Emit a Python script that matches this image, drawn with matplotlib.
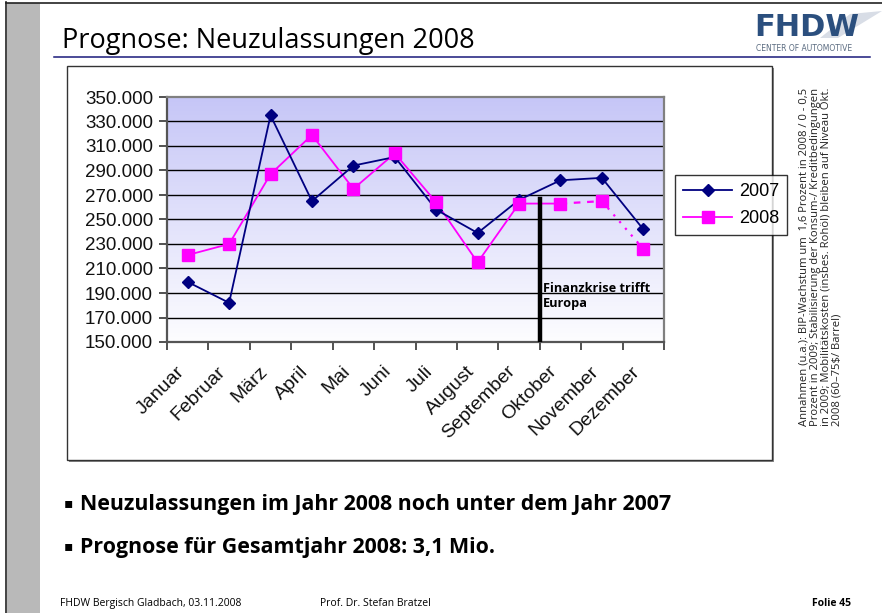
import numpy as np
import matplotlib.pyplot as plt
import matplotlib.transforms as mtransforms
from matplotlib.patches import Rectangle, Polygon
from matplotlib.lines import Line2D
from matplotlib.colors import LinearSegmentedColormap
from matplotlib.ticker import FuncFormatter

# Daten
monate = ['Januar', 'Februar', 'März', 'April', 'Mai', 'Juni', 'Juli',
          'August', 'September', 'Oktober', 'November', 'Dezember']
werte_2007 = [199000, 182000, 335000, 265000, 294000, 301000, 258000,
              239000, 266000, 282000, 284000, 242000]
werte_2008 = [221000, 230000, 287000, 319000, 275000, 304000, 264000,
              215000, 263000, 263000, 265000, 226000]
y_ticks = list(range(150000, 350001, 20000))
krise_grenze = 8.5      # zwischen September und Oktober
krise_hoehe = 267000

W, H = 882, 613
fig = plt.figure(figsize=(W / 100, H / 100), dpi=100)
fig.patch.set_facecolor('white')

def fx(x):
    return x / W

def fy(y):
    return 1 - y / H

slide_font = ['Open Sans', 'DejaVu Sans']

# --- Folienrahmen ---
fig.add_artist(Rectangle((fx(7), 0), fx(33), 1 - 3 / H, transform=fig.transFigure,
                         facecolor='#b9b9b9', edgecolor='none', zorder=-2))
fig.add_artist(Line2D([fx(6), fx(6)], [0, fy(2)], transform=fig.transFigure, color='#222', lw=1.2))
fig.add_artist(Line2D([fx(6), 1], [fy(2.5), fy(2.5)], transform=fig.transFigure, color='#222', lw=1.2))
fig.add_artist(Line2D([fx(54), fx(870)], [fy(57), fy(57)], transform=fig.transFigure, color='#1a1a7a', lw=1.1))

fig.text(fx(62), fy(48), 'Prognose: Neuzulassungen 2008', fontsize=19.5, family=slide_font,
         ha='left', va='baseline', color='black')

# Logo
fig.add_artist(Polygon([(fx(820), fy(38)), (fx(850), fy(14)), (fx(882), fy(11)), (fx(838), fy(38))],
                       closed=True, transform=fig.transFigure, facecolor='#d8dde6', edgecolor='none',
                       zorder=-1))
fig.text(fx(754), fy(36), 'FHDW', fontsize=22, fontweight='heavy', family='DejaVu Sans',
         color='#2b4f7e', ha='left', va='baseline')
fig.text(fx(756), fy(51), 'CENTER OF AUTOMOTIVE', fontsize=5.5, family='DejaVu Sans',
         color='#5a6b80', ha='left', va='baseline')

# --- Diagrammrahmen ---
fig.add_artist(Rectangle((fx(69), fy(462)), fx(705), (462 - 68) / H, transform=fig.transFigure,
                         facecolor='#888888', edgecolor='none', zorder=-2))
fig.add_artist(Rectangle((fx(67), fy(460)), fx(705), (460 - 66) / H, transform=fig.transFigure,
                         facecolor='white', edgecolor='#333333', lw=1.0, zorder=-1))

ax = fig.add_axes([fx(167), fy(342), (664 - 167) / W, (342 - 97) / H])
x = np.arange(len(monate))

grad = np.linspace(0, 1, 256).reshape(-1, 1)
cmap = LinearSegmentedColormap.from_list('bg', ['#fdfdff', '#c6c6f7'])
ax.imshow(grad, extent=(-0.5, 11.5, 150000, 350000), origin='lower', aspect='auto',
          cmap=cmap, zorder=0)

for yv in y_ticks[1:-1]:
    ax.axhline(yv, color='black', lw=1.0, zorder=1)

ax.set_xlim(-0.5, 11.5)
ax.set_ylim(150000, 350000)

# 2007
ax.plot(x, werte_2007, color='#000080', lw=1.3, marker='D', markersize=6,
        markerfacecolor='#000080', markeredgecolor='#000080', zorder=4)
# 2008: durchgezogen bis Oktober, danach Prognose gestrichelt/gepunktet
ax.plot(x[:10], werte_2008[:10], color='#ff00ff', lw=1.3, zorder=3)
ax.plot(x[9:11], werte_2008[9:11], color='#ff00ff', lw=1.6, linestyle=(0, (3, 3)), zorder=3)
ax.plot(x[10:], werte_2008[10:], color='#ff00ff', lw=1.6, linestyle=(0, (1, 3)), zorder=3)
ax.plot(x, werte_2008, linestyle='none', marker='s', markersize=8,
        markerfacecolor='#ff00ff', markeredgecolor='#ff00ff', zorder=5)

ax.plot([krise_grenze, krise_grenze], [150000, krise_hoehe], color='black', lw=3.2, zorder=6)
ax.text(krise_grenze + 0.08, 199000, 'Finanzkrise trifft\nEuropa', fontsize=9.2,
        fontweight='bold', family=slide_font, ha='left', va='top', linespacing=1.2, zorder=7)

for s in ['top', 'right']:
    ax.spines[s].set_color('#808080')
    ax.spines[s].set_linewidth(1.6)
ax.spines['left'].set_color('#555555')
ax.spines['bottom'].set_color('#555555')
ax.spines['left'].set_linewidth(1.6)
ax.spines['bottom'].set_linewidth(1.6)

ax.set_yticks(y_ticks)
ax.yaxis.set_major_formatter(FuncFormatter(lambda v, p: f'{int(v):,}'.replace(',', '.')))
ax.tick_params(axis='y', direction='out', length=6, width=1.2, color='#333333',
               labelsize=13.5, labelcolor='#111111', pad=4)
ax.set_xticks(x)
ax.set_xticklabels(monate)
ax.set_xticks(np.arange(-0.5, 12, 1), minor=True)
ax.tick_params(axis='x', which='major', length=0, labelsize=14, labelcolor='#111111', pad=15)
ax.tick_params(axis='x', which='minor', direction='out', length=6, width=1.2, color='#333333')
shift = mtransforms.ScaledTranslation(-0.12, 0, fig.dpi_scale_trans)
for lbl in ax.get_xticklabels() + ax.get_yticklabels():
    lbl.set_family('Liberation Sans')
for lbl in ax.get_xticklabels():
    lbl.set_rotation(45)
    lbl.set_ha('right')
    lbl.set_rotation_mode('anchor')
    lbl.set_transform(lbl.get_transform() + shift)

leg_handles = [Line2D([0], [0], color='#000080', lw=1.3, marker='D', markersize=6),
               Line2D([0], [0], color='#ff00ff', lw=1.3, marker='s', markersize=8)]
leg = fig.legend(leg_handles, ['2007', '2008'], loc='upper left',
                 bbox_to_anchor=(fx(675), fy(175)), frameon=True, fancybox=False,
                 edgecolor='black', borderaxespad=0, handlelength=2.7, handletextpad=0.4,
                 borderpad=0.45, labelspacing=0.55,
                 prop={'family': 'Liberation Sans', 'size': 13})
leg.get_frame().set_linewidth(1.0)

# Annahmen (gedreht)
annahmen = ('Annahmen (u.a.): BIP-Wachstum um  1,6 Prozent in 2008 / 0 - 0,5\n'
            'Prozent in 2009; Stabilisierung der Konsum-/ Kreditbedingungen\n'
            'in 2009; Mobilitätskosten (insbes. Rohöl) bleiben auf Niveau Okt.\n'
            '2008 (60–75$/ Barrel)')
fig.text(fx(799), fy(426), annahmen, rotation=90, fontsize=8.1, family=slide_font,
         ha='left', va='bottom', linespacing=0.98, color='#222222')

# Stichpunkte
for yb, txt in [(510, 'Neuzulassungen im Jahr 2008 noch unter dem Jahr 2007'),
                (553, 'Prognose für Gesamtjahr 2008: 3,1 Mio.')]:
    fig.text(fx(64), fy(yb - 3), '▪', fontsize=10, family=['DejaVu Sans'],
             ha='left', va='baseline')
    fig.text(fx(80), fy(yb), txt, fontsize=15.4, fontweight='bold', family=slide_font,
             ha='left', va='baseline')

# Fußzeile
fig.text(fx(60), fy(606), 'FHDW Bergisch Gladbach, 03.11.2008', fontsize=7.5, family=slide_font,
         ha='left', va='baseline')
fig.text(fx(320), fy(606), 'Prof. Dr. Stefan Bratzel', fontsize=7.5, family=slide_font,
         ha='left', va='baseline')
fig.text(fx(851), fy(606), 'Folie 45', fontsize=7.5, fontweight='bold', family=slide_font,
         ha='right', va='baseline')

fig.savefig('out.png', dpi=100)
